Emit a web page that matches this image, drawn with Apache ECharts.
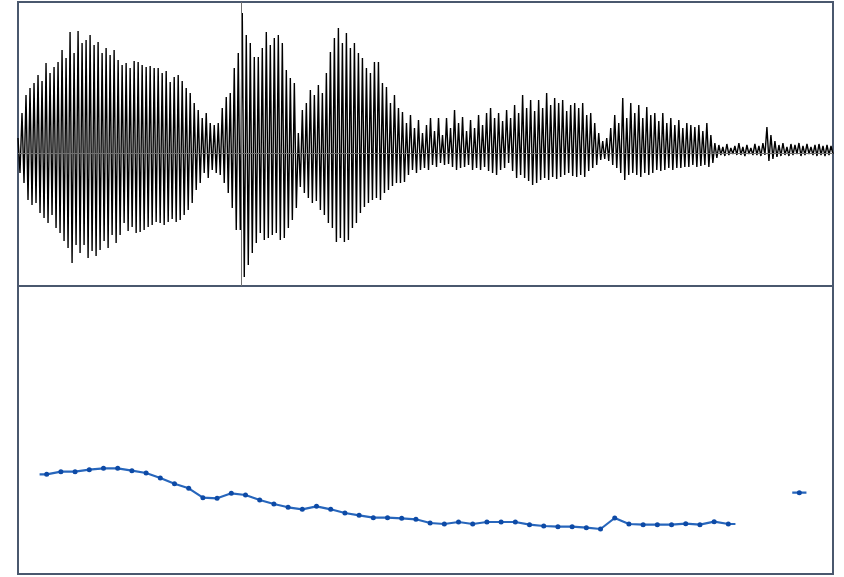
<!DOCTYPE html>
<html>
<head>
<meta charset="utf-8">
<style>
  html, body { margin: 0; padding: 0; background: #fff; }
  #main { width: 844px; height: 577px; }
</style>
<script src="https://cdn.jsdelivr.net/npm/echarts@6/dist/echarts.min.js"></script>
</head>
<body>
<div id="main"></div>
<script>
// waveform peaks (upper / lower swing of each cycle)
var waveTop = [
  15, 40, 58, 65, 70,   78, 72, 90, 80, 86,   91, 103, 95, 121, 100,  122, 110, 113, 118, 108,
  111, 100, 105, 98, 103,  93, 88, 90, 85, 92,  91, 88, 86, 87, 85,   85, 80, 82, 71, 76,
  78, 72, 65, 60, 50,   43, 35, 40, 30, 28,   30, 45, 56, 60, 85,   100, 140, 118, 110, 96,
  96, 105, 121, 108, 115,  118, 110, 83, 75, 70,  20, 43, 50, 63, 58,  68, 60, 80, 101, 115,
  125, 110, 120, 105, 110,  100, 95, 85, 80, 91,  91, 70, 66, 50, 58,  45, 41, 30, 38, 25,
  33, 20, 28, 35, 22,   35, 18, 35, 25, 43,   30, 36, 22, 33, 25,   38, 28, 40, 45, 35,
  40, 32, 43, 35, 48,   40, 58, 45, 53, 42,   53, 45, 60, 48, 55,   50, 53, 42, 48, 50,
  45, 50, 38, 40, 30,   20, 12, 15, 25, 38,   30, 55, 35, 50, 40,   48, 35, 46, 38, 40,
  32, 40, 30, 35, 28,   33, 25, 30, 28, 26,   28, 22, 30, 18, 10,   8, 6, 9, 5, 7,
  10, 6, 8, 5, 9,   7, 10, 26, 18, 12,   8, 10, 6, 9, 8,   10, 7, 9, 6, 8,   9, 7, 8, 7
];
var waveBottom = [
  -20, -30, -47, -52, -50,  -60, -65, -70, -62, -75,  -80, -88, -95, -110, -92,  -100, -92, -105, -98, -103,
  -97, -88, -95, -82, -90,  -82, -70, -78, -74, -80,  -79, -77, -74, -72, -69,  -70, -72, -69, -66, -69,
  -67, -62, -57, -50, -37,  -30, -20, -25, -17, -20,  -22, -30, -40, -55, -77,  -77, -124, -112, -100, -90,
  -80, -87, -85, -82, -80,  -87, -85, -75, -67, -55,  -34, -40, -45, -50, -48,  -57, -62, -70, -75, -89,
  -85, -89, -87, -75, -70,  -60, -54, -50, -47, -45,  -47, -40, -37, -33, -30,  -30, -29, -22, -17, -20,
  -17, -15, -17, -12, -14,  -10, -12, -11, -14, -17,  -15, -14, -12, -17, -15,  -17, -14, -18, -20, -22,
  -17, -15, -10, -18, -25,  -22, -25, -28, -32, -30,  -27, -25, -27, -24, -26,  -24, -22, -20, -23, -24,
  -22, -24, -18, -15, -12,  -7, -6, -8, -12, -15,  -20, -27, -22, -20, -22,  -24, -20, -22, -20, -17,
  -18, -17, -15, -17, -15,  -15, -14, -14, -12, -14,  -13, -12, -14, -10, -5,  -2, -3, -2, -1, -2,
  -2, -3, -1, -2, -2,  -3, -2, -8, -6, -4,  -3, -2, -3, -2, -1,  -3, -2, -1, -2, -3,  -2, -3, -2, -1
];
var cursorAt = 111.4;

// pitch contour, one value per frame (null = unvoiced)
var pitch = [
  99.7, 102.3, 102.3, 104.3, 105.7, 105.7, 103.3, 101, 96, 90.3,
  85.7, 76.3, 75.7, 80.7, 79, 74, 70, 66.7, 64.7, 67.7,
  64.7, 61, 58.7, 56.3, 56.3, 55.7, 54.7, 51, 50, 52,
  50, 52, 52, 52, 49.3, 48, 47.3, 47.3, 46.3, 45,
  56, 50, 49.3, 49.3, 49.3, 50.3, 49.3, 52.3, 50,
  null, null, null, null, 81.3
];

var wave = [];
for (var i = 0; i < waveTop.length; i++) {
  wave.push([2 * i, waveTop[i]]);
  wave.push([2 * i + 1, waveBottom[i]]);
}

var pitchPts = pitch.map(function (v, i) { return [i, v]; });

// half-frame stubs at the ends of each voiced run
var stubData = [];
pitch.forEach(function (v, i) {
  if (v == null) return;
  if (i === 0 || pitch[i - 1] == null) stubData.push([i - 0.5, v], [i, v], [null, null]);
  if (i === pitch.length - 1 || pitch[i + 1] == null) stubData.push([i, v], [i + 0.5, v], [null, null]);
});

var chart = echarts.init(document.getElementById('main'));

var option = {
  animation: false,
  grid: [
    { left: 18, right: 11, top: 2, height: 284, show: true, borderColor: '#4a586e', borderWidth: 2, backgroundColor: '#fff' },
    { left: 18, right: 11, top: 286, bottom: 3, show: true, borderColor: '#4a586e', borderWidth: 2, backgroundColor: '#fff' }
  ],
  xAxis: [
    { type: 'value', gridIndex: 0, min: 0, max: 2 * waveTop.length - 1, show: false },
    { type: 'value', gridIndex: 1, min: -2.02, max: 55.37, show: false }
  ],
  yAxis: [
    { type: 'value', gridIndex: 0, min: -133, max: 151, show: false },
    { type: 'value', gridIndex: 1, min: 0, max: 288, show: false }
  ],
  series: [
    {
      type: 'line',
      xAxisIndex: 0,
      yAxisIndex: 0,
      data: wave,
      symbol: 'none',
      lineStyle: { color: '#000', width: 1.4 },
      z: 3,
      markLine: {
        silent: true,
        symbol: 'none',
        label: { show: false },
        data: [
          { yAxis: 0, lineStyle: { color: '#6f6f6f', width: 1, type: 'solid' } },
          { xAxis: cursorAt, lineStyle: { color: '#6f6f6f', width: 1, type: 'solid' } }
        ]
      }
    },
    {
      type: 'line',
      xAxisIndex: 1,
      yAxisIndex: 1,
      data: stubData,
      symbol: 'none',
      connectNulls: false,
      lineStyle: { color: '#2766bc', width: 2.2 },
      z: 3
    },
    {
      type: 'line',
      xAxisIndex: 1,
      yAxisIndex: 1,
      data: pitchPts,
      connectNulls: false,
      symbol: 'circle',
      symbolSize: 5,
      showAllSymbol: true,
      itemStyle: { color: '#0d4aa6' },
      lineStyle: { color: '#2766bc', width: 2.2 },
      z: 4
    }
  ]
};

chart.setOption(option);
</script>
</body>
</html>
